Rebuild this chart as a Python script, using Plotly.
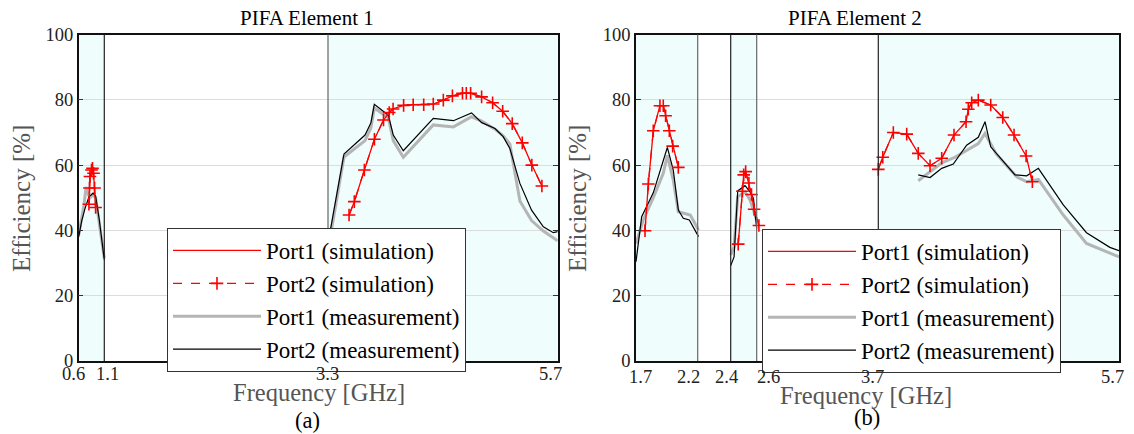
import numpy as np
import plotly.graph_objects as go

# ---------------- data ----------------
# Axis break frequencies (GHz) and their tick labels
left_breaks_ghz = [0.6, 1.1, 3.3, 5.7]
left_tick_labels = ["0.6", "1.1", "3.3", "5.7"]
right_breaks_ghz = [1.7, 2.2, 2.4, 2.6, 3.7, 5.7]
right_tick_labels = ["1.7", "2.2", "2.4", "2.6", "3.7", "5.7"]

# shaded (evaluated) frequency bands
left_bands = [(0.6, 1.1), (3.3, 5.7)]
right_bands = [(1.7, 2.2), (2.4, 2.6), (3.7, 5.7)]

# ---- PIFA Element 1 ----
sim_l_a_f = [0.80, 0.81, 0.82, 0.85, 0.87, 0.89, 0.91, 0.93]
sim_l_a_v = [48.0, 53.0, 56.5, 58.5, 59.0, 57.5, 53.0, 47.0]
sim_l_b_f = [3.52, 3.575, 3.68, 3.785, 3.88, 3.94, 3.98, 4.09, 4.19, 4.30, 4.40, 4.505,
             4.60, 4.705, 4.745, 4.79, 4.905, 5.02, 5.125, 5.225, 5.33, 5.43, 5.535]
sim_l_b_v = [44.7, 48.8, 58.5, 67.9, 73.8, 76.1, 77.2, 78.3, 78.5, 78.5, 78.7, 79.9,
             81.2, 82.0, 82.0, 82.0, 80.9, 79.1, 76.5, 72.7, 66.8, 60.0, 53.6]

m1_l_a_f = [0.60, 0.70, 0.745, 0.76, 0.82, 0.88, 0.93, 1.00, 1.10]
m1_l_a_v = [38.5, 47.5, 53.3, 52.0, 50.0, 51.0, 50.0, 43.0, 31.5]
m2_l_a_f = [0.60, 0.66, 0.72, 0.80, 0.88, 0.93, 1.00, 1.10]
m2_l_a_v = [38.0, 43.0, 46.5, 50.3, 51.4, 50.5, 43.5, 31.0]

m1_l_b_f = [3.30, 3.467, 3.687, 3.749, 3.784, 3.93, 3.982, 4.087, 4.40, 4.61, 4.80,
            4.906, 5.045, 5.13, 5.20, 5.305, 5.427, 5.55, 5.70]
m1_l_b_v = [34.0, 62.5, 67.5, 71.5, 77.5, 74.5, 67.5, 62.4, 72.3, 71.7, 74.8,
            73.5, 71.0, 69.0, 66.5, 49.0, 43.0, 39.8, 36.8]
m2_l_b_f = [3.30, 3.467, 3.687, 3.749, 3.784, 3.93, 3.982, 4.087, 4.40, 4.61, 4.80,
            4.906, 5.045, 5.13, 5.20, 5.305, 5.427, 5.55, 5.654, 5.70]
m2_l_b_v = [36.0, 63.4, 69.2, 73.0, 78.6, 75.3, 69.2, 64.4, 74.3, 73.6, 76.0,
            73.0, 71.2, 68.7, 65.1, 54.4, 46.2, 41.1, 39.3, 39.6]

# ---- PIFA Element 2 ----
sim_r_a_f = [1.773, 1.80, 1.84, 1.894, 1.921, 1.94, 1.97, 1.997, 2.043]
sim_r_a_v = [39.9, 54.2, 70.5, 78.2, 78.2, 75.1, 70.5, 65.8, 59.3]
sim_r_b_f = [2.458, 2.49, 2.50, 2.515, 2.54, 2.56, 2.58, 2.62]
sim_r_b_v = [35.8, 52.0, 57.0, 58.0, 54.5, 51.0, 46.5, 41.5]
sim_r_c_f = [3.70, 3.737, 3.825, 3.936, 4.032, 4.13, 4.227, 4.329, 4.429, 4.448, 4.476,
             4.531, 4.634, 4.734, 4.828, 4.928, 4.98]
sim_r_c_v = [58.7, 62.4, 70.0, 69.5, 63.6, 59.8, 62.1, 69.2, 73.3, 77.1, 79.1,
             79.9, 78.4, 74.6, 69.2, 62.8, 54.9]

m1_r_a_f = [1.70, 1.759, 1.84, 1.921, 1.954, 2.002, 2.043, 2.097, 2.14, 2.205]
m1_r_a_v = [36.0, 43.2, 50.0, 57.5, 63.0, 55.4, 45.7, 45.2, 44.7, 40.1]
m2_r_a_f = [1.70, 1.746, 1.84, 1.954, 2.002, 2.043, 2.083, 2.132, 2.205]
m2_r_a_v = [30.4, 44.2, 51.5, 65.4, 58.5, 46.2, 43.7, 43.2, 38.1]

m1_r_b_f = [2.40, 2.426, 2.454, 2.51, 2.549, 2.587, 2.60]
m1_r_b_v = [32.5, 35.0, 50.3, 51.8, 49.3, 45.2, 43.2]
m2_r_b_f = [2.40, 2.426, 2.454, 2.51, 2.549, 2.575, 2.60]
m2_r_b_v = [29.2, 31.9, 52.1, 53.7, 51.8, 49.8, 40.5]

m1_r_c_f = [4.032, 4.13, 4.227, 4.337, 4.434, 4.531, 4.587, 4.68, 4.85, 4.933, 5.03,
            5.237, 5.43, 5.70]
m1_r_c_v = [55.2, 58.0, 60.7, 62.4, 64.4, 66.6, 69.7, 63.4, 56.4, 54.9, 55.6,
            44.7, 36.0, 31.9]
m2_r_c_f = [4.032, 4.13, 4.227, 4.323, 4.434, 4.531, 4.587, 4.634, 4.836, 4.933, 5.03,
            5.237, 5.43, 5.624, 5.70]
m2_r_c_v = [57.0, 56.2, 59.0, 60.3, 66.1, 68.5, 73.3, 65.6, 57.0, 56.7, 59.0,
            47.8, 39.3, 34.8, 33.8]

y_ticks = [0, 20, 40, 60, 80, 100]

# ---------------- layout helpers (broken frequency axis) ----------------
PAGE_W, PAGE_H = 1134, 434
OFF = 8                      # default page body margin
W_FIG, H_FIG = PAGE_W - OFF, PAGE_H - OFF
left_px = (78.7, 557.7)
right_px = (636.0, 1119.0)
# relative screen position of each axis break inside the plot area (px)
left_break_pos = [0.0, 25.6, 249.3, 479.0]
right_break_pos = [0.0, 61.7, 94.7, 120.7, 242.3, 483.0]
# small horizontal nudges of the break labels (px), as placed in the original
left_label_nudge = [-5.7, 3.0, -1.0, -7.0]
right_label_nudge = [4.5, -9.7, -4.0, 11.6, -6.0, -7.0]
plot_top, plot_bot = 34.5, 361.0


def px_x(x):
    return (x - OFF) / W_FIG


def px_y(y):
    return 1 - (y - OFF) / H_FIG


def mapper(breaks, pos):
    return lambda f: list(np.interp(np.asarray(f, float), breaks, pos))


mapL = mapper(left_breaks_ghz, left_break_pos)
mapR = mapper(right_breaks_ghz, right_break_pos)


def join(mapf, pairs):
    xs, ys = [], []
    for i, (f, v) in enumerate(pairs):
        if i:
            xs.append(None)
            ys.append(None)
        xs += mapf(f)
        ys += list(v)
    return xs, ys


SERIF = "Liberation Serif"
RED = "#ff0000"
GRAY = "#b5b5b5"
CYAN = "#effdfd"

fig = go.Figure()


def add_series(mapf, sims, m1, m2, xa, ya, leg):
    xs, ys = join(mapf, m1)
    fig.add_trace(go.Scatter(x=xs, y=ys, xaxis=xa, yaxis=ya, mode="lines",
                             name="Port1 (measurement)", legend=leg, legendrank=3,
                             line=dict(color=GRAY, width=3)))
    xs, ys = join(mapf, m2)
    fig.add_trace(go.Scatter(x=xs, y=ys, xaxis=xa, yaxis=ya, mode="lines",
                             name="Port2 (measurement)", legend=leg, legendrank=4,
                             line=dict(color="#000000", width=1.2)))
    xs, ys = join(mapf, sims)
    fig.add_trace(go.Scatter(x=xs, y=ys, xaxis=xa, yaxis=ya, mode="lines",
                             name="Port1 (simulation)", legend=leg, legendrank=1,
                             line=dict(color=RED, width=1.3)))
    fig.add_trace(go.Scatter(x=xs, y=ys, xaxis=xa, yaxis=ya, mode="lines+markers",
                             name="Port2 (simulation)", legend=leg, legendrank=2,
                             line=dict(color=RED, width=1.3, dash="dash"),
                             marker=dict(symbol="cross-thin", size=9, color=RED,
                                         line=dict(color=RED, width=1.6))))


add_series(mapL, [(sim_l_a_f, sim_l_a_v), (sim_l_b_f, sim_l_b_v)],
           [(m1_l_a_f, m1_l_a_v), (m1_l_b_f, m1_l_b_v)],
           [(m2_l_a_f, m2_l_a_v), (m2_l_b_f, m2_l_b_v)], "x", "y", "legend")
add_series(mapR, [(sim_r_a_f, sim_r_a_v), (sim_r_b_f, sim_r_b_v), (sim_r_c_f, sim_r_c_v)],
           [(m1_r_a_f, m1_r_a_v), (m1_r_b_f, m1_r_b_v), (m1_r_c_f, m1_r_c_v)],
           [(m2_r_a_f, m2_r_a_v), (m2_r_b_f, m2_r_b_v), (m2_r_c_f, m2_r_c_v)],
           "x2", "y2", "legend2")

shapes = []
for mapf, bands, xr, yr in [(mapL, left_bands, "x", "y domain"),
                            (mapR, right_bands, "x2", "y2 domain")]:
    for a, b in bands:
        xa, xb = mapf([a, b])
        shapes.append(dict(type="rect", xref=xr, yref=yr, x0=xa, x1=xb, y0=0, y1=1,
                           fillcolor=CYAN, line=dict(width=0), layer="below"))

sep_specs = [(mapL, 1.1, "x", "y domain", "#222222"),
             (mapL, 3.3, "x", "y domain", "#666666"),
             (mapR, 2.2, "x2", "y2 domain", "#666666"),
             (mapR, 2.4, "x2", "y2 domain", "#222222"),
             (mapR, 2.6, "x2", "y2 domain", "#666666"),
             (mapR, 3.7, "x2", "y2 domain", "#222222")]
for mapf, f, xr, yr, col in sep_specs:
    xv = mapf([f])[0]
    shapes.append(dict(type="line", xref=xr, yref=yr, x0=xv, x1=xv, y0=0, y1=1,
                       line=dict(color=col, width=1.2), layer="above"))

ydom = [px_y(plot_bot), px_y(plot_top)]
tickfont = dict(family=SERIF, size=18.5, color="#222222")


def xaxis(px, breaks, mapf):
    return dict(domain=[px_x(px[0]), px_x(px[1])], range=[0, px[1] - px[0]],
                tickmode="array", tickvals=mapf(breaks), showticklabels=False,
                showgrid=False, zeroline=False, ticks="",
                showline=True, mirror=True, linecolor="#111111", linewidth=1.5,
                fixedrange=True, automargin=False)


def yaxis(anchor):
    return dict(domain=ydom, range=[0, 100], tickvals=y_ticks, anchor=anchor,
                showgrid=True, gridcolor="#dcdcdc", gridwidth=1, zeroline=False,
                ticks="inside", ticklen=5, tickcolor="#333333", tickfont=tickfont,
                showline=True, mirror="ticks", linecolor="#111111", linewidth=1.5,
                fixedrange=True, automargin=False)


legend_common = dict(xanchor="left", yanchor="top", bgcolor="white",
                     bordercolor="#333333", borderwidth=1,
                     font=dict(family=SERIF, size=23, color="black"),
                     itemwidth=88, tracegroupgap=0)

annotations = []


def txt(x, y, s, size, color="black", angle=0, **kw):
    annotations.append(dict(x=px_x(x), y=px_y(y), xref="paper", yref="paper",
                            text=s, showarrow=False, textangle=angle,
                            xanchor="center", yanchor="middle", borderpad=0,
                            font=dict(family=SERIF, size=size, color=color), **kw))


# frequency break labels, placed on the axis scale
for mapf, breaks, labels, nudges, xr, ylab in [
        (mapL, left_breaks_ghz, left_tick_labels, left_label_nudge, "x", 374),
        (mapR, right_breaks_ghz, right_tick_labels, right_label_nudge, "x2", 377)]:
    for xv, lab, dx in zip(mapf(breaks), labels, nudges):
        annotations.append(dict(x=xv, y=px_y(ylab), xref=xr, yref="paper", text=lab,
                                xshift=dx, showarrow=False, xanchor="center",
                                yanchor="middle", borderpad=0, font=tickfont))

txt(307, 18, "PIFA Element 1", 21, height=20)
txt(855, 18, "PIFA Element 2", 21, height=20)
txt(22, 199, "Efficiency [%]", 25, "#555555", -90)
txt(578, 199, "Efficiency [%]", 25, "#555555", -90)
txt(319, 392, "Frequency [GHz]", 24.5, "#555555")
txt(866, 395, "Frequency [GHz]", 24.5, "#555555")
txt(307, 420, "(a)", 22.5)
txt(867, 417, "(b)", 22.5)

fig.update_layout(
    width=W_FIG, height=H_FIG, margin=dict(l=0, r=0, t=0, b=0, autoexpand=False),
    paper_bgcolor="white", plot_bgcolor="white",
    xaxis=xaxis(left_px, left_breaks_ghz, mapL) | dict(anchor="y"),
    yaxis=yaxis("x"),
    xaxis2=xaxis(right_px, right_breaks_ghz, mapR) | dict(anchor="y2"),
    yaxis2=yaxis("x2"),
    legend=legend_common | dict(x=px_x(167), y=px_y(228)),
    legend2=legend_common | dict(x=px_x(762), y=px_y(229)),
    shapes=shapes, annotations=annotations, showlegend=True,
)

fig.write_html("out.html")
